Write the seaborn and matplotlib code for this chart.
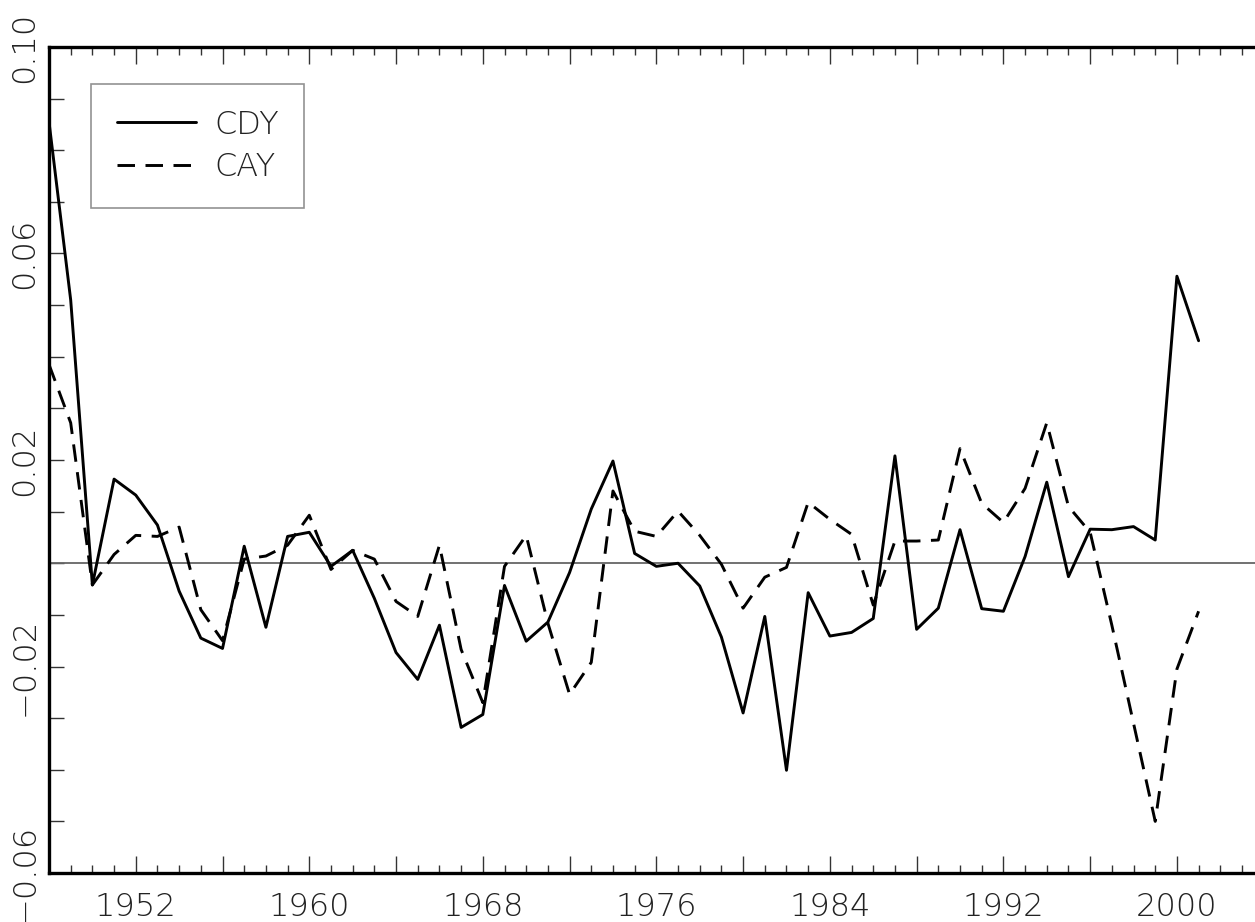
import numpy as np
import pandas as pd
import seaborn as sns
import matplotlib.pyplot as plt
from matplotlib.ticker import MultipleLocator, FixedLocator, FuncFormatter

years = list(range(1948, 2002))

cdy = [0.0855, 0.0510, -0.0042, 0.0163, 0.0132, 0.0074, -0.0054, -0.0145, -0.0165, 0.0033,
       -0.0124, 0.0052, 0.0060, -0.0006, 0.0025, -0.0068, -0.0173, -0.0225, -0.0120, -0.0318,
       -0.0293, -0.0043, -0.0151, -0.0114, -0.0018, 0.0105, 0.0198, 0.0019, -0.0006, 0.0000,
       -0.0044, -0.0143, -0.0290, -0.0103, -0.0401, -0.0057, -0.0141, -0.0134, -0.0107, 0.0208,
       -0.0128, -0.0087, 0.0065, -0.0088, -0.0093, 0.0013, 0.0157, -0.0026, 0.0066, 0.0065,
       0.0071, 0.0045, 0.0556, 0.0431]

cay = [0.0385, 0.0272, -0.0042, 0.0017, 0.0054, 0.0052, 0.0070, -0.0090, -0.0150, 0.0008,
       0.0014, 0.0035, 0.0093, -0.0012, 0.0025, 0.0008, -0.0074, -0.0103, 0.0035, -0.0167,
       -0.0270, -0.0006, 0.0054, -0.0116, -0.0254, -0.0192, 0.0140, 0.0062, 0.0052, 0.0101,
       0.0054, -0.0002, -0.0087, -0.0027, -0.0008, 0.0118, 0.0085, 0.0056, -0.0081, 0.0043,
       0.0043, 0.0045, 0.0222, 0.0116, 0.0079, 0.0145, 0.0272, 0.0110, 0.0060, -0.0120,
       -0.0310, -0.0500, -0.0205, -0.0093]

series_names = ['CDY', 'CAY']
y_labels = [-0.06, -0.02, 0.02, 0.06, 0.10]

df = pd.DataFrame({'year': years * 2,
                   'value': cdy + cay,
                   'series': ['CDY'] * len(years) + ['CAY'] * len(years)})

sns.set_style('white')
plt.rcParams['font.family'] = ['DejaVu Sans']
plt.rcParams['font.weight'] = 'light'
plt.rcParams['font.size'] = 23

fig = plt.figure(figsize=(12.55, 9.22), dpi=100)
ax = fig.add_axes([49 / 1255, 49 / 922, 1.0 - 49 / 1255, (873 - 47) / 922])

ax.axhline(0, color='#666666', lw=1.3, zorder=1)
sns.lineplot(data=df, x='year', y='value', hue='series', style='series',
             hue_order=series_names, style_order=series_names,
             palette={'CDY': 'black', 'CAY': 'black'},
             dashes={'CDY': '', 'CAY': (6, 3.6)},
             linewidth=2.1, ax=ax, zorder=3)

ax.set_xlim(1948, 2003.6)
ax.set_ylim(-0.06, 0.10)
ax.set_xlabel('')
ax.set_ylabel('')

for side in ['left', 'bottom', 'top']:
    ax.spines[side].set_linewidth(2.4)
    ax.spines[side].set_color('black')
ax.spines['right'].set_visible(False)

ax.xaxis.set_major_locator(MultipleLocator(4))
ax.xaxis.set_minor_locator(MultipleLocator(1))
ax.xaxis.set_major_formatter(FuncFormatter(lambda v, p: str(int(round(v))) if int(round(v)) % 8 == 0 else ''))
ax.yaxis.set_major_locator(FixedLocator(y_labels))
ax.yaxis.set_minor_locator(MultipleLocator(0.01))
ax.yaxis.set_major_formatter(FuncFormatter(lambda v, p: f'{v:.2f}'.replace('-', '\u2212')))

ax.tick_params(axis='x', which='major', direction='in', length=12, width=1, top=True, bottom=True,
               color='#333333', pad=14, labelcolor='#222222')
ax.tick_params(axis='x', which='minor', direction='in', length=6, width=1, top=True, bottom=True,
               color='#333333')
ax.tick_params(axis='y', which='both', direction='in', length=11, width=1, left=True, right=False,
               color='#333333', pad=7, labelcolor='#222222')
for lab in ax.get_yticklabels():
    lab.set_rotation(90)
    lab.set_va('center')

handles, labels = ax.get_legend_handles_labels()
leg = ax.legend(handles, labels, loc='upper left',
                bbox_to_anchor=(91 / 1255, 1 - 84 / 922), bbox_transform=fig.transFigure,
                borderaxespad=0, frameon=True, fancybox=False, edgecolor='#777777',
                handlelength=2.5, handletextpad=0.55, labelspacing=0.4, borderpad=0.8,
                fontsize=23)
leg.get_frame().set_linewidth(1.2)
for t in leg.get_texts():
    t.set_color('#222222')

fig.savefig('out.png', dpi=100)
